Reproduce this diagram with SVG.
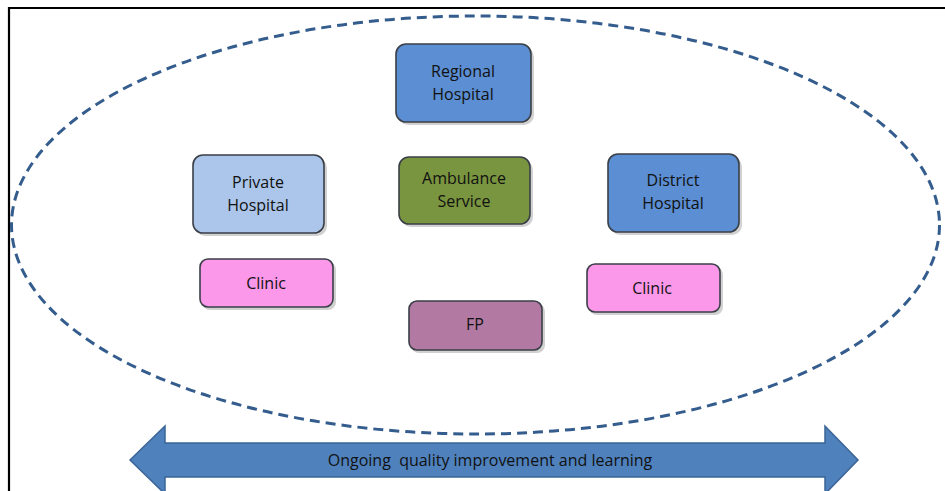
<svg xmlns="http://www.w3.org/2000/svg" width="945" height="491" viewBox="0 0 945 491">
<style>
.box{stroke:#3a3f47;stroke-width:1.6}
.sh{fill:#9a9a9a;opacity:0.45}
.t{font-family:"Open Sans","Liberation Sans",sans-serif;font-size:16px;fill:#111;text-anchor:middle}
.blue{fill:#5b8ed2}
.lblue{fill:#abc6ea}
.green{fill:#7a953f}
.pink{fill:#fb98ea}
.mauve{fill:#b27aa2}
</style>
<rect x="0" y="0" width="945" height="491" fill="#ffffff"/>
<path d="M9 491 V8 H945" fill="none" stroke="#000" stroke-width="2.2"/>
<g id="connectors">
<ellipse cx="475.5" cy="225" rx="464" ry="209" fill="none" stroke="#345d8e" stroke-width="3" stroke-dasharray="10 6"/>
</g>
<g id="regional">
<rect class="sh" x="398" y="47" width="136" height="78" rx="10"/>
<rect class="box blue" x="396" y="44" width="135" height="78" rx="10"/>
<text class="t" x="463" y="77">Regional</text>
<text class="t" x="463" y="100">Hospital</text>
</g>
<g id="private">
<rect class="sh" x="195" y="158" width="132" height="78" rx="10"/>
<rect class="box lblue" x="193" y="155" width="131" height="78" rx="10"/>
<text class="t" x="258" y="188">Private</text>
<text class="t" x="258" y="211">Hospital</text>
</g>
<g id="ambulance">
<rect class="sh" x="401" y="160" width="132" height="67" rx="10"/>
<rect class="box green" x="399" y="157" width="131" height="67" rx="10"/>
<text class="t" x="464" y="184">Ambulance</text>
<text class="t" x="464" y="207">Service</text>
</g>
<g id="district">
<rect class="sh" x="610" y="157" width="132" height="78" rx="10"/>
<rect class="box blue" x="608" y="154" width="131" height="78" rx="10"/>
<text class="t" x="673" y="186">District</text>
<text class="t" x="673" y="209">Hospital</text>
</g>
<g id="clinic-left">
<rect class="sh" x="202" y="262" width="134" height="48" rx="8"/>
<rect class="box pink" x="200" y="259" width="133" height="48" rx="8"/>
<text class="t" x="266" y="289">Clinic</text>
</g>
<g id="clinic-right">
<rect class="sh" x="589" y="267" width="134" height="48" rx="8"/>
<rect class="box pink" x="587" y="264" width="133" height="48" rx="8"/>
<text class="t" x="652" y="294">Clinic</text>
</g>
<g id="fp">
<rect class="sh" x="411" y="304" width="134" height="49" rx="8"/>
<rect class="box mauve" x="409" y="301" width="133" height="49" rx="8"/>
<text class="t" x="475" y="330">FP</text>
</g>
<g id="arrow">
<path d="M130 460 L165 426 V443 H825 V426 L858 460 L825 494 V477 H165 V494 Z" fill="#4f81bd" stroke="#3b6496" stroke-width="1.5"/>
<text class="t" x="490" y="466" xml:space="preserve" style="white-space:pre">Ongoing  quality improvement and learning</text>
</g>
</svg>
